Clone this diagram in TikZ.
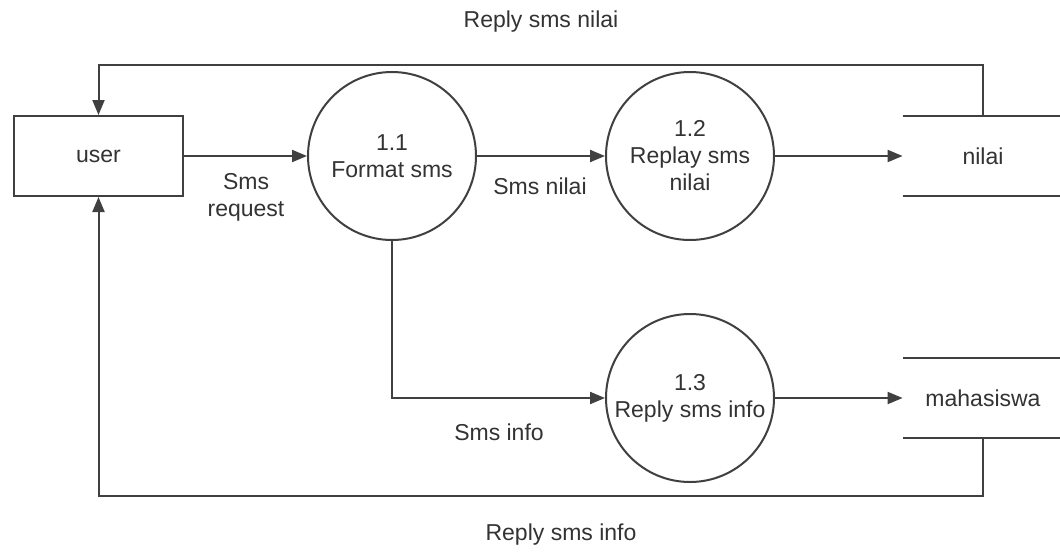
\documentclass[tikz,border=0pt]{standalone}
\usepackage{fontspec}
\setmainfont{Liberation Sans}
\usetikzlibrary{arrows.meta}
\begin{document}
\begin{tikzpicture}[x=0.5pt,y=-0.5pt,
  font=\fontsize{11.5}{13.5}\selectfont,
  line/.style={draw=black!75, line width=1pt},
  flow/.style={line, -{Triangle[length=7.5pt,width=6pt]}},
  proc/.style={circle, draw=black!75, line width=1pt, minimum size=84pt, inner sep=0pt, align=center, text=black!80},
  ent/.style={rectangle, draw=black!75, line width=1pt, minimum width=84.5pt, minimum height=40pt, text=black!80},
  lbl/.style={text=black!80, align=center, inner sep=0pt},
  store/.style={rectangle, minimum width=80pt, minimum height=40pt, inner sep=0pt, text=black!80},
  storeline/.style={line}]
\useasboundingbox (0,0) rectangle (1060,552);
\fill[white] (0,0) rectangle (1060,552);
% nodes
\node[ent] (user) at (98.5,156) {user};
\node[proc] (p11) at (392,156) {1.1\\Format sms};
\node[proc] (p12) at (690,156) {1.2\\Replay sms\\nilai};
\node[proc] (p13) at (690,398) {1.3\\Reply sms info};
\node[store] (nilai) at (983,156) {nilai};
\node[store] (mhs) at (983,398) {mahasiswa};
% data store lines
\draw[storeline] (nilai.north west) -- (nilai.north east);
\draw[storeline] (nilai.south west) -- (nilai.south east);
\draw[storeline] (mhs.north west) -- (mhs.north east);
\draw[storeline] (mhs.south west) -- (mhs.south east);
% helper coordinates
\coordinate (ttop) at (0,65);
\coordinate (tbot) at (0,496);
% connectors
\draw[flow] (user.east) -- (p11.west);
\draw[flow] (p11.east) -- (p12.west);
\draw[flow] (p12.east) -- (nilai.west);
\draw[flow] (p11.south) |- (p13.west);
\draw[flow] (p13.east) -- (mhs.west);
\draw[flow] (nilai.north) -- (nilai.north |- ttop) -| (user.north);
\draw[flow] (mhs.south) -- (mhs.south |- tbot) -| (user.south);
% labels
\node[lbl] (lreq) at (246,197) {Sms\\request};
\node[lbl] (lnilai) at (540,186) {Sms nilai};
\node[lbl] (linfo) at (499,432) {Sms info};
\node[lbl] (lrnilai) at (541,22) {Reply sms nilai};
\node[lbl] (lrinfo) at (561,535) {Reply sms info};
\end{tikzpicture}
\end{document}
